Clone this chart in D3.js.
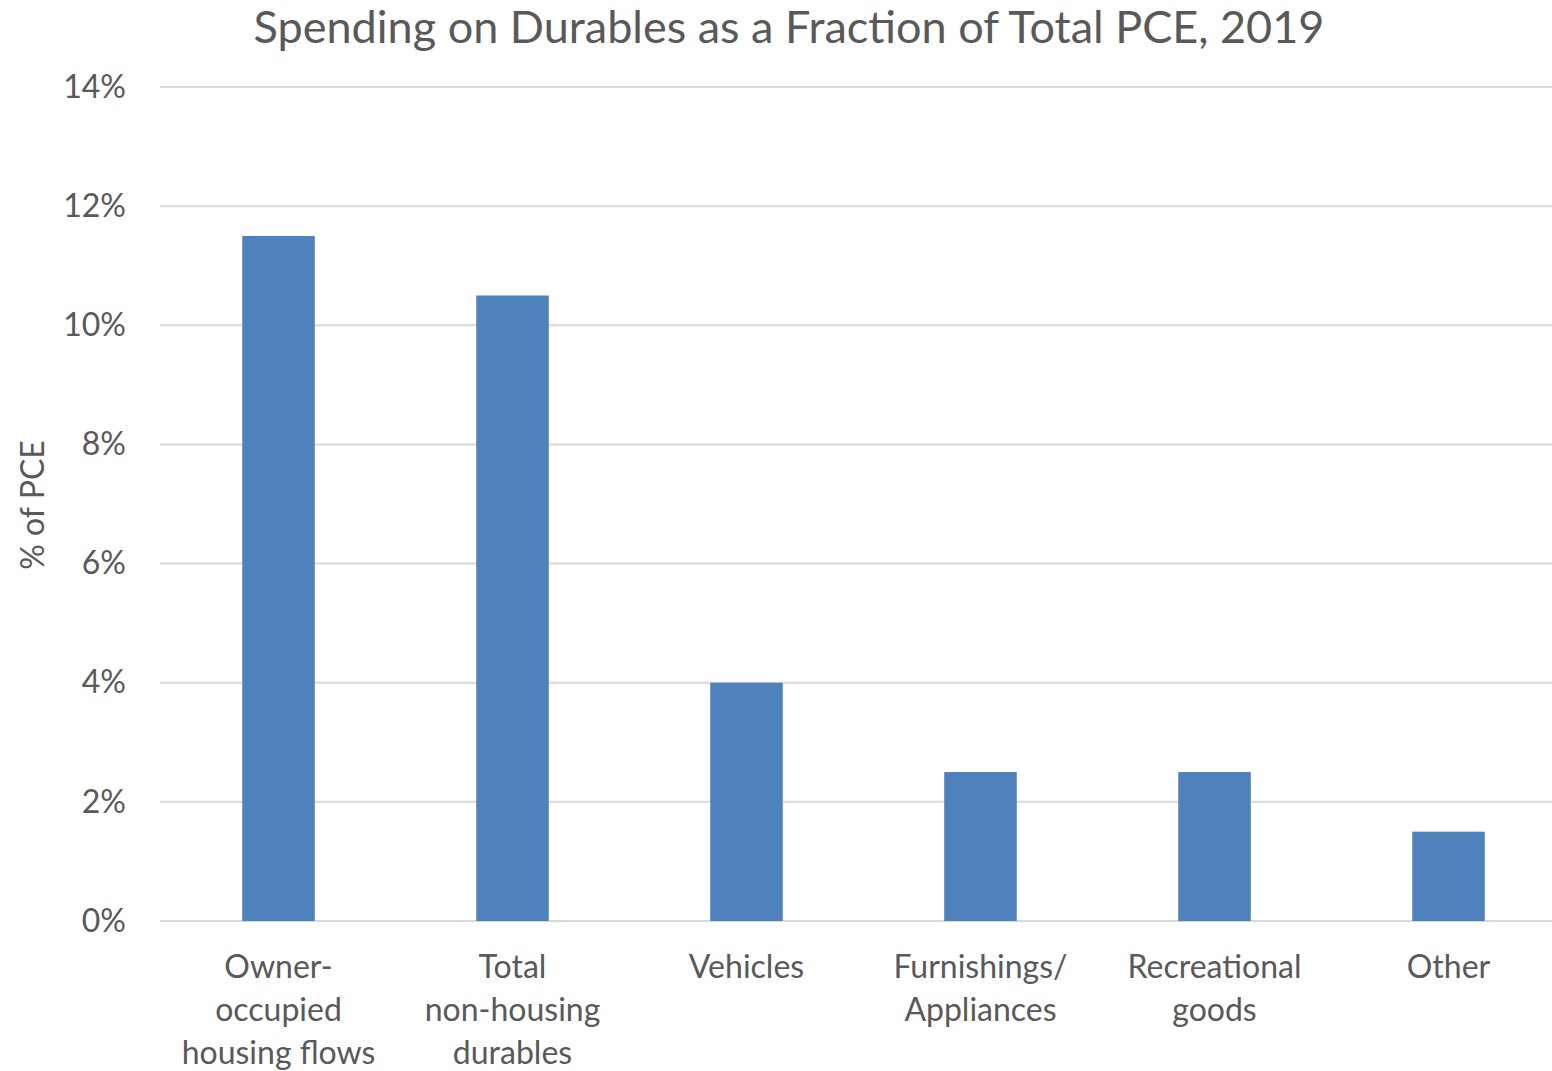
<!DOCTYPE html>
<html>
<head>
<meta charset="utf-8">
<script src="https://cdn.jsdelivr.net/npm/d3@7"></script>
<style>
body { margin: 0; background: #fff; }
text { font-family: Lato, "Open Sans", sans-serif; fill: #595959; }
</style>
</head>
<body>
<div id="chart"></div>
<script>
// chart data
var categories = [
    ["Owner-", "occupied", "housing flows"],
    ["Total", "non-housing", "durables"],
    ["Vehicles"],
    ["Furnishings/", "Appliances"],
    ["Recreational", "goods"],
    ["Other"]
];
var shares = [11.5, 10.5, 4.0, 2.5, 2.5, 1.5];
var yTicks = [0, 2, 4, 6, 8, 10, 12, 14];

var svgWidth = 1552;
var svgHeight = 1071;

var svg = d3.select("#chart")
    .append("svg")
    .attr("width", svgWidth)
    .attr("height", svgHeight);

var xScale = d3.scaleBand()
    .domain(d3.range(categories.length))
    .range([161.5, 1565.5])
    .paddingInner(0.69)
    .paddingOuter(0.345);

var yScale = d3.scaleLinear()
    .domain([0, 14])
    .range([921, 87]);

// gridlines
svg.append("g")
    .selectAll("line")
    .data(yTicks)
    .enter()
    .append("line")
    .attr("x1", 160)
    .attr("x2", svgWidth)
    .attr("y1", d => yScale(d))
    .attr("y2", d => yScale(d))
    .attr("stroke", "#d9d9d9")
    .attr("stroke-width", 2);

// y axis labels
var leftAxis = d3.axisLeft(yScale)
    .tickValues(yTicks)
    .tickFormat(d => d + "%")
    .tickSize(0)
    .tickPadding(0);

var yAxis = svg.append("g")
    .attr("transform", "translate(126, 0)")
    .call(leftAxis);
yAxis.select(".domain").remove();
yAxis.selectAll("text")
    .style("font-size", "32px")
    .style("font-family", "Lato, sans-serif")
    .attr("fill", "#595959");

// bars
svg.append("g")
    .selectAll("rect")
    .data(shares)
    .enter()
    .append("rect")
    .attr("x", (d, i) => xScale(i))
    .attr("width", xScale.bandwidth())
    .attr("y", d => yScale(d))
    .attr("height", d => yScale(0) - yScale(d))
    .attr("fill", "#4f81bd");

// category labels
var catGroup = svg.append("g")
    .selectAll("text")
    .data(categories)
    .enter()
    .append("text")
    .attr("text-anchor", "middle")
    .attr("transform", (d, i) => `translate(${xScale(i) + xScale.bandwidth() / 2}, 978)`)
    .style("font-size", "32px");

catGroup.selectAll("tspan")
    .data(d => d)
    .enter()
    .append("tspan")
    .attr("x", 0)
    .attr("y", (d, i) => i * 43)
    .text(d => d);

// y axis title
svg.append("text")
    .attr("transform", "translate(44, 505) rotate(-90)")
    .attr("text-anchor", "middle")
    .style("font-size", "32px")
    .text("% of PCE");

// chart title
svg.append("text")
    .attr("x", 789)
    .attr("y", 43)
    .attr("text-anchor", "middle")
    .style("font-size", "45px")
    .text("Spending on Durables as a Fraction of Total PCE, 2019");
</script>
</body>
</html>
